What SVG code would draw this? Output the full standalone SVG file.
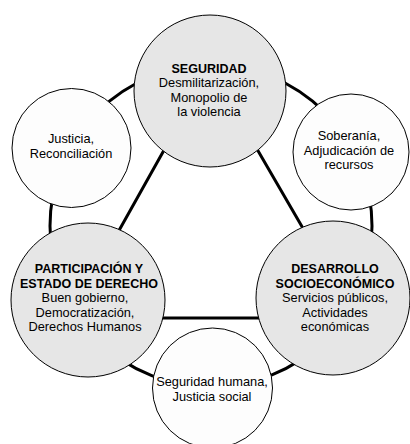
<svg xmlns="http://www.w3.org/2000/svg" width="410" height="444" viewBox="0 0 410 444">
<style>
.conn{fill:none;stroke:#000;stroke-width:3}
.gray{fill:#e6e6e6;stroke:#000;stroke-width:1}
.white{fill:#fdfdfd;stroke:#000;stroke-width:1}
text{font-family:"Liberation Sans",Arial,sans-serif;font-size:12.8px;fill:#000;text-anchor:middle}
.b{font-weight:bold;font-size:12.5px}
</style>
<rect width="410" height="444" fill="#fff"/>
<g id="connectors">
<circle class="conn" cx="211" cy="226" r="161"/>
<polygon class="conn" points="210,68 70,318 355,318"/>
</g>
<g id="seguridad">
<circle class="gray" cx="210" cy="91" r="76"/>
<text class="b" x="209" y="73">SEGURIDAD</text>
<text x="209" y="87">Desmilitarización,</text>
<text x="209" y="101.5">Monopolio de</text>
<text x="209" y="116">la violencia</text>
</g>
<g id="justicia">
<circle class="white" cx="71.5" cy="148" r="59.5"/>
<text x="71" y="143">Justicia,</text>
<text x="71" y="158">Reconciliación</text>
</g>
<g id="soberania">
<circle class="white" cx="351" cy="152" r="58"/>
<text x="349" y="140">Soberanía,</text>
<text x="349" y="154.5">Adjudicación de</text>
<text x="349" y="169">recursos</text>
</g>
<g id="participacion">
<circle class="gray" cx="88" cy="300" r="77"/>
<text class="b" x="89" y="273">PARTICIPACIÓN Y</text>
<text class="b" x="89" y="287.5">ESTADO DE DERECHO</text>
<text x="85" y="302">Buen gobierno,</text>
<text x="85" y="316.5">Democratización,</text>
<text x="85" y="331">Derechos Humanos</text>
</g>
<g id="desarrollo">
<circle class="gray" cx="333" cy="298" r="77"/>
<text class="b" x="335" y="273">DESARROLLO</text>
<text class="b" x="335" y="287.5">SOCIOECONÓMICO</text>
<text x="335" y="302">Servicios públicos,</text>
<text x="335" y="316.5">Actividades</text>
<text x="335" y="331">económicas</text>
</g>
<g id="seguridad-humana">
<circle class="white" cx="212.5" cy="388" r="60"/>
<text x="212" y="386">Seguridad humana,</text>
<text x="212" y="400.5">Justicia social</text>
</g>
</svg>
